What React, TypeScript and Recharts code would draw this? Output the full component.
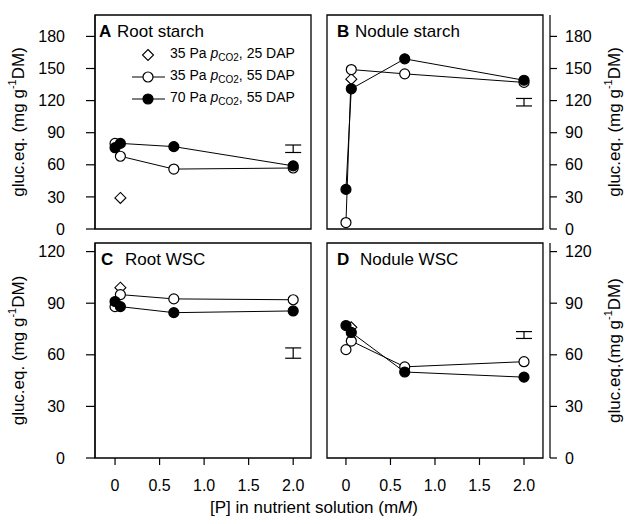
import React from "react";
import {
  ComposedChart,
  Line,
  Scatter,
  XAxis,
  YAxis,
  ReferenceArea,
  ErrorBar,
  Legend,
} from "recharts";

const FONT = '"Liberation Sans", Arial, Helvetica, sans-serif';

// [P] levels in nutrient solution (mM)
const P_LEVELS = [0, 0.06, 0.66, 2.0];
const X_TICKS = [0, 0.5, 1.0, 1.5, 2.0];
const STARCH_TICKS = [0, 30, 60, 90, 120, 150, 180];
const WSC_TICKS = [0, 30, 60, 90, 120];

// 35 Pa pCO2, 55 DAP (open circles)
const rootStarch35 = [80, 68, 56, 57];
const noduleStarch35 = [6, 149, 145, 137];
const rootWsc35 = [88, 95, 92.5, 92];
const noduleWsc35 = [63, 68, 53, 56];

// 70 Pa pCO2, 55 DAP (filled circles)
const rootStarch70 = [76, 80, 77, 59];
const noduleStarch70 = [37, 131, 159, 139];
const rootWsc70 = [91, 88, 84.5, 85.5];
const noduleWsc70 = [77, 73, 50, 47];

// 35 Pa pCO2, 25 DAP (diamonds), one value per panel at the second P level
const early35 = [29, 140, 99, 76];

// LSD bars at 2.0 mM: centre and half length
const lsdCentre = [75, 118.5, 61, 71.5];
const lsdHalf = [3.5, 3.5, 3, 2];

const PANEL_LETTERS = ["A", "B", "C", "D"];
const PANEL_NAMES = ["Root starch", "Nodule starch", "Root WSC", "Nodule WSC"];
const Y_TITLES = ["gluc.eq. (mg g", "gluc.eq. (mg g", "gluc.eq. (mg g", "gluc.eq.(mg g"];

const LEGEND_ITEMS = [
  { pa: "35", dap: "25", kind: "diamond" },
  { pa: "35", dap: "55", kind: "open" },
  { pa: "70", dap: "55", kind: "filled" },
];

const X_DOMAIN_L = [-0.225, 2.2];
const X_DOMAIN_R = [-0.213, 2.292];
const BOX_RIGHT_R = 2.213;

const toPoints = (vals: number[]) => vals.map((v, i) => ({ p: P_LEVELS[i], v }));

const panels = [
  { open: rootStarch35, filled: rootStarch70, yMax: 200, ticks: STARCH_TICKS, letterDx: 4, nameDx: 22 },
  { open: noduleStarch35, filled: noduleStarch70, yMax: 200, ticks: STARCH_TICKS, letterDx: 10, nameDx: 28 },
  { open: rootWsc35, filled: rootWsc70, yMax: 125, ticks: WSC_TICKS, letterDx: 6, nameDx: 30 },
  { open: noduleWsc35, filled: noduleWsc70, yMax: 125, ticks: WSC_TICKS, letterDx: 10, nameDx: 33 },
];

const fmtX = (v: number) => (v === 0 ? "0" : v.toFixed(1));

function Diamond(props: any) {
  const { cx, cy } = props;
  if (cx == null || cy == null) return <g />;
  const s = 5.5;
  return (
    <polygon
      points={`${cx},${cy - s} ${cx + s},${cy} ${cx},${cy + s} ${cx - s},${cy}`}
      fill="#fff"
      stroke="#000"
      strokeWidth={1.1}
    />
  );
}

function LegendBox() {
  return (
    <div style={{ fontFamily: FONT, fontSize: 14, color: "#000" }}>
      {LEGEND_ITEMS.map((it) => (
        <div key={it.pa + it.dap} style={{ display: "flex", alignItems: "center", height: 22 }}>
          <svg width={38} height={22}>
            {it.kind !== "diamond" && <line x1={2} x2={35} y1={11} y2={11} stroke="#000" strokeWidth={1} />}
            {it.kind === "diamond" ? (
              <Diamond cx={18} cy={11} />
            ) : (
              <circle cx={18} cy={11} r={5} fill={it.kind === "open" ? "#fff" : "#000"} stroke="#000" strokeWidth={1.2} />
            )}
          </svg>
          <span style={{ marginLeft: 2, whiteSpace: "nowrap", lineHeight: "22px" }}>
            {it.pa} Pa <i>p</i>
            <sub style={{ fontSize: 10, verticalAlign: "-3px" }}>CO2</sub>, {it.dap} DAP
          </span>
        </div>
      ))}
    </div>
  );
}

function Panel({ idx }: { idx: number }) {
  const cfg = panels[idx];
  const isLeft = idx % 2 === 0;
  const isTop = idx < 2;
  const width = 316;
  // top row charts run a little past the row-2 top so the "0" tick labels are not clipped
  const height = isTop ? 246 : 288;
  const xDomain = isLeft ? X_DOMAIN_L : X_DOMAIN_R;
  const tickStyle = { fontSize: 16, fill: "#000", fontFamily: FONT };

  const yTitle = (props: any) => {
    const vb = props.viewBox;
    const cx = isLeft ? vb.x + 18 : vb.x + 64;
    const cy = vb.y + vb.height / 2;
    return (
      <text
        x={cx}
        y={cy}
        transform={`rotate(-90, ${cx}, ${cy})`}
        textAnchor="middle"
        dominantBaseline="central"
        fontSize={17}
        fontFamily={FONT}
        fill="#000"
      >
        {Y_TITLES[idx]}
        <tspan dy={-6} fontSize={11}>-1</tspan>
        <tspan dy={6}>DM)</tspan>
      </text>
    );
  };

  const panelTitle = (props: any) => {
    const vb = props.viewBox;
    return (
      <text y={vb.y + 22} fontSize={17} fontFamily={FONT} fill="#000">
        <tspan x={vb.x + cfg.letterDx} fontWeight="bold">{PANEL_LETTERS[idx]}</tspan>
        <tspan x={vb.x + cfg.nameDx}>{PANEL_NAMES[idx]}</tspan>
      </text>
    );
  };

  return (
    <div style={{ position: "absolute", left: isLeft ? 0 : 316, top: isTop ? 0 : 236 }}>
      <ComposedChart
        width={width}
        height={height}
        margin={{ top: isTop ? 15 : 7, right: isLeft ? 5 : 0, bottom: 0, left: isLeft ? 0 : 11 }}
      >
        <XAxis
          type="number"
          dataKey="p"
          domain={xDomain}
          allowDataOverflow
          ticks={X_TICKS}
          interval={0}
          axisLine={false}
          tickLine={{ stroke: "#000", strokeWidth: 1.2 }}
          tickSize={isTop ? -8 : 7}
          tickMargin={15}
          tick={isTop ? false : tickStyle}
          tickFormatter={fmtX}
          height={isTop ? 17 : 66}
        />
        <YAxis
          type="number"
          orientation={isLeft ? "left" : "right"}
          domain={[0, cfg.yMax]}
          allowDataOverflow
          ticks={cfg.ticks}
          interval={0}
          width={isLeft ? 95 : 82}
          axisLine={{ stroke: "#000", strokeWidth: 1.2 }}
          tickLine={{ stroke: "#000", strokeWidth: 1.2 }}
          tickSize={isLeft ? 9 : 7}
          tickMargin={isLeft ? 21 : 8}
          tick={tickStyle}
          label={{ content: yTitle }}
        />
        <ReferenceArea
          x1={xDomain[0]}
          x2={isLeft ? xDomain[1] : BOX_RIGHT_R}
          y1={0}
          y2={cfg.yMax}
          fill="none"
          stroke="#000"
          strokeWidth={1.3}
          ifOverflow="visible"
          label={{ content: panelTitle }}
        />
        <Scatter
          data={[{ p: P_LEVELS[1], v: early35[idx] }]}
          dataKey="v"
          shape={<Diamond />}
          isAnimationActive={false}
        />
        <Scatter
          data={[{ p: 2.0, v: lsdCentre[idx], e: lsdHalf[idx] }]}
          dataKey="v"
          shape={() => <g />}
          isAnimationActive={false}
        >
          <ErrorBar dataKey="e" direction="y" width={8} stroke="#000" strokeWidth={1.2} isAnimationActive={false} />
        </Scatter>
        <Line
          data={toPoints(cfg.open)}
          dataKey="v"
          type="linear"
          stroke="#000"
          strokeWidth={1}
          dot={{ r: 5, fill: "#fff", stroke: "#000", strokeWidth: 1.2 }}
          activeDot={false}
          isAnimationActive={false}
        />
        <Line
          data={toPoints(cfg.filled)}
          dataKey="v"
          type="linear"
          stroke="#000"
          strokeWidth={1}
          dot={{ r: 5, fill: "#000", stroke: "#000", strokeWidth: 1.2 }}
          activeDot={false}
          isAnimationActive={false}
        />
        {idx === 0 && (
          <Legend
            layout="vertical"
            align="center"
            verticalAlign="middle"
            content={() => <LegendBox />}
            wrapperStyle={{ left: 130, top: 44, width: "auto" }}
          />
        )}
      </ComposedChart>
    </div>
  );
}

export default function App() {
  return (
    <div
      style={{
        position: "absolute",
        left: 0,
        top: 0,
        width: 632,
        height: 524,
        background: "#fff",
        overflow: "hidden",
        fontFamily: FONT,
      }}
    >
      {[2, 3, 0, 1].map((i) => (
        <Panel key={i} idx={i} />
      ))}
      <div
        style={{
          position: "absolute",
          left: 0,
          width: 628,
          top: 498,
          lineHeight: "20px",
          textAlign: "center",
          fontSize: 17,
          color: "#000",
        }}
      >
        [P] in nutrient solution (m<i>M</i>)
      </div>
    </div>
  );
}
